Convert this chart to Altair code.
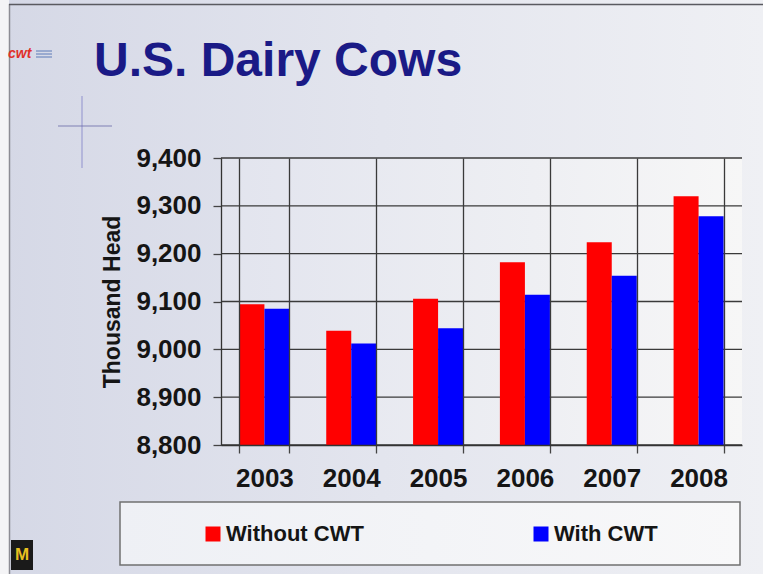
import altair as alt
import pandas as pd

# ---- data ----
years = ["2003", "2004", "2005", "2006", "2007", "2008"]
without_cwt = [9094, 9039, 9106, 9182, 9224, 9320]
with_cwt = [9085, 9012, 9044, 9114, 9154, 9278]
series_names = ["Without CWT", "With CWT"]
series_colors = ["#ff0000", "#0000ff"]
y_ticks = [8800, 8900, 9000, 9100, 9200, 9300, 9400]
title_text = "U.S. Dairy Cows"
y_title = "Thousand Head"

rows = []
for i, yr in enumerate(years):
    rows.append({"year": yr, "series": series_names[0], "value": without_cwt[i]})
    rows.append({"year": yr, "series": series_names[1], "value": with_cwt[i]})
df = pd.DataFrame(rows)
grid_df = pd.DataFrame({"value": y_ticks})
one = pd.DataFrame({"a": [0]})

# ---- layout ----
TW, TH = 763, 574
PL, PT = 221, 158
W, H = 521, 287
PR, PB = TW - PL - W, TH - PT - H
FONT = "Liberation Sans"

def grad(stops, x1=0, x2=1, y1=0, y2=0):
    return alt.LinearGradient(
        gradient="linear",
        stops=[alt.GradientStop(offset=o, color=c) for o, c in stops],
        x1=x1, x2=x2, y1=y1, y2=y2,
    )

y_enc = alt.Y(
    "value:Q",
    scale=alt.Scale(domain=[8800, 9400], zero=False, nice=False),
    title=y_title,
    axis=alt.Axis(
        values=y_ticks, format=",d", grid=False, zindex=1,
        labelFont=FONT, labelFontSize=26, labelFontWeight="bold", labelColor="#151515",
        labelPadding=12, tickSize=8, tickColor="#444444", tickWidth=1.3,
        domainColor="#333333", domainWidth=1.3,
        titleFont=FONT, titleFontSize=23, titleFontWeight="bold", titleColor="#151515",
        titlePadding=11,
    ),
)

def deco_rect(x, x2, y, y2, **kw):
    return alt.Chart(one).mark_rect(**kw).encode(
        x=alt.value(x - PL), x2=alt.value(x2 - PL), y=alt.value(y - PT), y2=alt.value(y2 - PT)
    )

def deco_hline(x, x2, y, **kw):
    return alt.Chart(one).mark_rule(**kw).encode(
        x=alt.value(x - PL), x2=alt.value(x2 - PL), y=alt.value(y - PT)
    )

def deco_vline(x, y, y2, **kw):
    return alt.Chart(one).mark_rule(**kw).encode(
        x=alt.value(x - PL), y=alt.value(y - PT), y2=alt.value(y2 - PT)
    )

def deco_text(x, y, text, **kw):
    return alt.Chart(one).mark_text(text=text, **kw).encode(
        x=alt.value(x - PL), y=alt.value(y - PT)
    )

bg = deco_rect(0, TW, 0, TH, fill=grad([(0, "#d5d8e6"), (0.5, "#e3e5ee"), (1, "#eff0f4")]))
left_strip = deco_rect(0, 9, 0, TH, fill="#f4f4f6")
left_border = deco_vline(9.5, 4, TH, color="#8c8c94", strokeWidth=1.5)
top_border = deco_hline(9, TW, 4.5, color="#5a5a60", strokeWidth=1.5)
header_line = deco_hline(10, TW, 126, strokeWidth=3, opacity=0.9,
                         stroke=grad([(0, "#eceef5"), (0.15, "#ffffff"), (1, "#f4f5f8")]))
cross_v = deco_vline(82, 96, 168, color="#8080c8", strokeWidth=1, opacity=0.8)
cross_h = deco_hline(58, 112, 126, color="#6a6aa8", strokeWidth=1, opacity=0.8)
cwt_logo = deco_text(8, 54, "cwt", font=FONT, fontSize=14, fontWeight="bold", fontStyle="italic",
                     color="#e0302a", align="left", baseline="middle")
cwt_l1 = deco_hline(36, 52, 51, color="#5c7ab8", strokeWidth=1)
cwt_l2 = deco_hline(36, 52, 54, color="#5c7ab8", strokeWidth=1)
cwt_l3 = deco_hline(36, 52, 57, color="#5c7ab8", strokeWidth=1)
mu_box = deco_rect(11, 33, 540, 570, fill="#1a1a1a")
mu_text = deco_text(22, 555, "M", font=FONT, fontSize=17, fontWeight="bold", color="#e8c020",
                    align="center", baseline="middle")
plot_bg = deco_rect(PL, PL + W, PT, PT + H,
                    fill=grad([(0, "#e2e4ee"), (0.6, "#eeeff3"), (1, "#f7f7f7")]))
legend_box = deco_rect(120, 740, 502, 565, fill=grad([(0, "#eef0f5"), (1, "#f8f8f9")]),
                       stroke="#707070", strokeWidth=1.5)

# horizontal gridlines through the y scale
grid = alt.Chart(grid_df).mark_rule(color="#3a3a3a", strokeWidth=1.3).encode(y=y_enc)

bars = alt.Chart(df).mark_bar(clip=True).encode(
    x=alt.X(
        "year:N", sort=years, title=None,
        scale=alt.Scale(paddingInner=0.424, paddingOuter=0.212),
        axis=alt.Axis(
            labelAngle=0, tickBand="extent", grid=True, gridColor="#3a3a3a", gridWidth=1.3,
            zindex=1, labelFont=FONT, labelFontSize=26, labelFontWeight="bold",
            labelColor="#151515", labelPadding=12, tickSize=8, tickColor="#444444",
            tickWidth=1.3, domainColor="#333333", domainWidth=1.3,
        ),
    ),
    xOffset=alt.XOffset("series:N", sort=series_names,
                        scale=alt.Scale(paddingInner=0, paddingOuter=0)),
    y=y_enc,
    color=alt.Color(
        "series:N", sort=series_names,
        scale=alt.Scale(domain=series_names, range=series_colors),
        legend=alt.Legend(
            orient="none", legendX=205 - PL - 3, legendY=365, direction="horizontal",
            title=None, symbolType="square", symbolSize=225, symbolStrokeWidth=0,
            labelFont=FONT, labelFontSize=22, labelFontWeight="bold", labelColor="#151515",
            labelOffset=2, columnPadding=166, padding=0, labelLimit=0,
        ),
    ),
)

chart = alt.layer(
    bg, left_strip, left_border, top_border, header_line, cross_v, cross_h,
    cwt_logo, cwt_l1, cwt_l2, cwt_l3, mu_box, mu_text, legend_box, plot_bg, grid, bars,
).properties(
    width=W, height=H,
    padding={"left": PL, "top": PT, "right": PR, "bottom": PB},
    autosize=alt.AutoSizeParams(type="none"),
    title=alt.TitleParams(
        text=title_text, anchor="start", frame="group", dx=97 - PL - 3, offset=0,
        dy=124, baseline="alphabetic",
        font=FONT, fontSize=48, fontWeight="bold", color="#1a1a86",
    ),
).configure_view(stroke=None).configure(background="#f4f4f6")

chart.save("out.html", embed_options={"renderer": "svg", "actions": False})
